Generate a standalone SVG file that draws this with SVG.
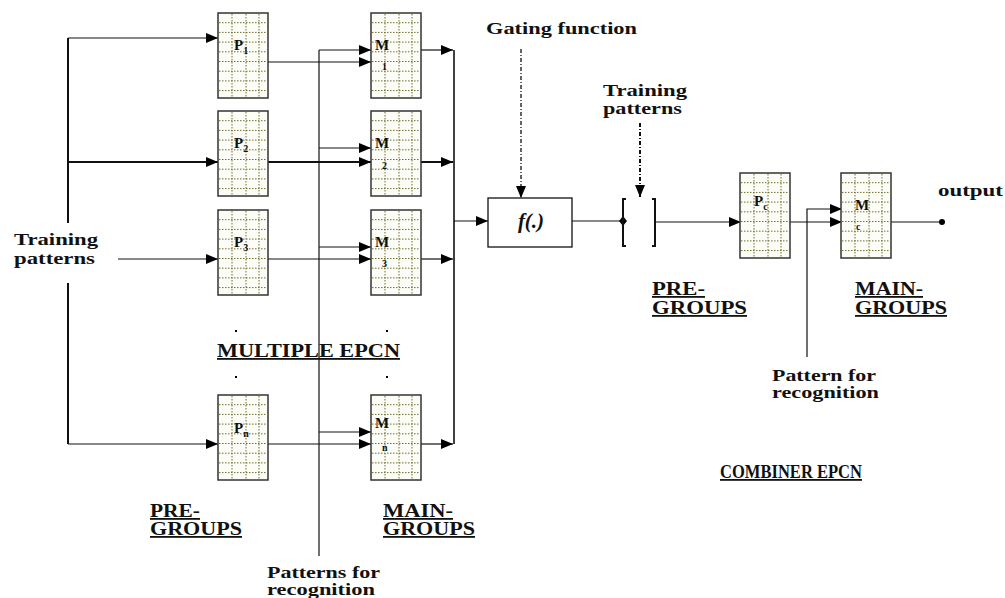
<svg xmlns="http://www.w3.org/2000/svg" width="1005" height="598" viewBox="0 0 1005 598">
<style>
text{font-weight:bold;fill:#111;}
.t{font-size:17px;}
.u{font-size:18px;text-decoration:underline;}
.lbl{font-size:15px;}
.sub{font-size:10px;}
.ln{stroke:#111;stroke-width:1.2;fill:none;}
.thick{stroke:#111;stroke-width:2;fill:none;}
.dd{stroke:#111;stroke-width:1.3;fill:none;stroke-dasharray:4,2,1,2;}
.grid{stroke:#6e6e30;stroke-width:1;stroke-dasharray:1.5,1.5;fill:none;}
.frame{fill:#fdfdf8;stroke:#333;stroke-width:1.5;}
</style>
<defs>
<marker id="ah" markerUnits="userSpaceOnUse" markerWidth="13" markerHeight="10" refX="12" refY="5" orient="auto">
<path d="M0,0 L12,5 L0,10 Z" fill="#000"/>
</marker>
<g id="cell">
<rect class="frame" x="0" y="0" width="50" height="85"/>
<path class="grid" d="M14,1V84M28,1V84M41,1V84M1,9.7H49M1,19.4H49M1,29.1H49M1,38.8H49M1,48.5H49M1,58.2H49M1,67.9H49M1,77.6H49"/>
</g>
</defs>

<g id="connectors">
<path class="thick" d="M68,38V223M68,283V444"/>
<path class="ln" d="M68,38H218" marker-end="url(#ah)"/>
<path class="thick" d="M68,162H218" marker-end="url(#ah)"/>
<path class="ln" d="M68,444H218" marker-end="url(#ah)"/>
<path class="ln" d="M118,259H218" marker-end="url(#ah)"/>
<path class="ln" d="M268,62H371" marker-end="url(#ah)"/>
<path class="thick" d="M268,162H371" marker-end="url(#ah)"/>
<path class="ln" d="M268,259H371" marker-end="url(#ah)"/>
<path class="ln" d="M268,444H371" marker-end="url(#ah)"/>
<path class="ln" d="M319,556V50"/>
<path class="ln" d="M319,50H371" marker-end="url(#ah)"/>
<path class="ln" d="M319,148H371" marker-end="url(#ah)"/>
<path class="ln" d="M319,247H371" marker-end="url(#ah)"/>
<path class="ln" d="M319,432H371" marker-end="url(#ah)"/>
<path class="ln" d="M421,50H453" marker-end="url(#ah)"/>
<path class="thick" d="M421,162H453" marker-end="url(#ah)"/>
<path class="ln" d="M421,259H453" marker-end="url(#ah)"/>
<path class="ln" d="M421,444H453" marker-end="url(#ah)"/>
<path class="thick" d="M454,50V444" style="stroke-width:1.6"/>
<path class="ln" d="M454,221H488" marker-end="url(#ah)"/>
<path class="dd" d="M521,49V198" marker-end="url(#ah)"/>
<path class="dd" d="M640,123V197" style="stroke-width:2" marker-end="url(#ah)"/>
<path class="ln" d="M572,221H623"/>
<path d="M623,216L627,221L623,226L619,221Z" fill="#000"/>
<path class="thick" d="M626,199H623V246H626"/>
<path class="thick" d="M652,199H655V246H652"/>
<path class="ln" d="M655,222H741" marker-end="url(#ah)"/>
<path class="ln" d="M790,222H842" marker-end="url(#ah)"/>
<path class="ln" d="M807,357V209H842" marker-end="url(#ah)"/>
<path class="ln" d="M891,222H942"/>
<circle cx="942" cy="222" r="3" fill="#000"/>
</g>

<g font-family="Liberation Serif, DejaVu Serif, serif">
<g id="P1"><use href="#cell" x="218" y="13"/><text class="lbl" x="234" y="50">P<tspan class="sub" dy="4">1</tspan></text></g>
<g id="P2"><use href="#cell" x="218" y="111"/><text class="lbl" x="234" y="148">P<tspan class="sub" dy="4">2</tspan></text></g>
<g id="P3"><use href="#cell" x="218" y="210"/><text class="lbl" x="234" y="247">P<tspan class="sub" dy="4">3</tspan></text></g>
<g id="Pn"><use href="#cell" x="218" y="395"/><text class="lbl" x="234" y="433">P<tspan class="sub" dy="4">n</tspan></text></g>

<g id="M1"><use href="#cell" x="371" y="13"/><text class="lbl" x="375" y="50">M</text><text class="sub" x="382" y="70">1</text></g>
<g id="M2"><use href="#cell" x="371" y="111"/><text class="lbl" x="375" y="148">M</text><text class="sub" x="382" y="169">2</text></g>
<g id="M3"><use href="#cell" x="371" y="210"/><text class="lbl" x="375" y="247">M</text><text class="sub" x="382" y="267">3</text></g>
<g id="Mn"><use href="#cell" x="371" y="395"/><text class="lbl" x="375" y="428">M</text><text class="sub" x="382" y="451">n</text></g>

<g id="f"><rect x="488" y="198" width="84" height="49" fill="#fff" stroke="#111" stroke-width="1.3"/><text x="531" y="228" text-anchor="middle" style="font-size:21px;font-style:italic">f(.)</text></g>

<g id="Pc"><use href="#cell" x="740" y="173"/><text class="lbl" x="754" y="206">P<tspan class="sub" dy="4">c</tspan></text></g>
<g id="Mc"><use href="#cell" x="841" y="173"/><text class="lbl" x="855" y="210">M</text><text class="sub" x="856" y="230">c</text></g>

<g id="dots" fill="#000">
<rect x="235" y="330" width="2" height="2"/><rect x="386" y="330" width="2" height="2"/>
<rect x="235" y="376" width="2" height="2"/><rect x="386" y="376" width="2" height="2"/>
</g>

<g id="labels">
<text class="t" x="14" y="245" textLength="84" lengthAdjust="spacingAndGlyphs">Training</text>
<text class="t" x="14" y="264" textLength="81" lengthAdjust="spacingAndGlyphs">patterns</text>
<text class="t" x="486" y="34" textLength="151" lengthAdjust="spacingAndGlyphs">Gating function</text>
<text class="t" x="603" y="96" textLength="84" lengthAdjust="spacingAndGlyphs">Training</text>
<text class="t" x="603" y="114" textLength="79" lengthAdjust="spacingAndGlyphs">patterns</text>
<text class="u" x="217" y="357" textLength="183" lengthAdjust="spacingAndGlyphs">MULTIPLE EPCN</text>
<text class="u" x="150" y="517" textLength="50" lengthAdjust="spacingAndGlyphs">PRE-</text>
<text class="u" x="150" y="535" textLength="92" lengthAdjust="spacingAndGlyphs">GROUPS</text>
<text class="u" x="383" y="517" textLength="70" lengthAdjust="spacingAndGlyphs">MAIN-</text>
<text class="u" x="383" y="535" textLength="92" lengthAdjust="spacingAndGlyphs">GROUPS</text>
<text class="t" x="267" y="578" textLength="113" lengthAdjust="spacingAndGlyphs">Patterns for</text>
<text class="t" x="267" y="595" textLength="108" lengthAdjust="spacingAndGlyphs">recognition</text>
<text class="u" x="652" y="295" textLength="53" lengthAdjust="spacingAndGlyphs">PRE-</text>
<text class="u" x="652" y="314" textLength="95" lengthAdjust="spacingAndGlyphs">GROUPS</text>
<text class="u" x="855" y="295" textLength="68" lengthAdjust="spacingAndGlyphs">MAIN-</text>
<text class="u" x="855" y="314" textLength="92" lengthAdjust="spacingAndGlyphs">GROUPS</text>
<text class="t" x="772" y="381" textLength="104" lengthAdjust="spacingAndGlyphs">Pattern for</text>
<text class="t" x="772" y="398" textLength="107" lengthAdjust="spacingAndGlyphs">recognition</text>
<text class="t" x="938" y="196" textLength="65" lengthAdjust="spacingAndGlyphs">output</text>
<text class="u" x="720" y="478" textLength="142" lengthAdjust="spacingAndGlyphs">COMBINER EPCN</text>
</g>
</g>
</svg>
